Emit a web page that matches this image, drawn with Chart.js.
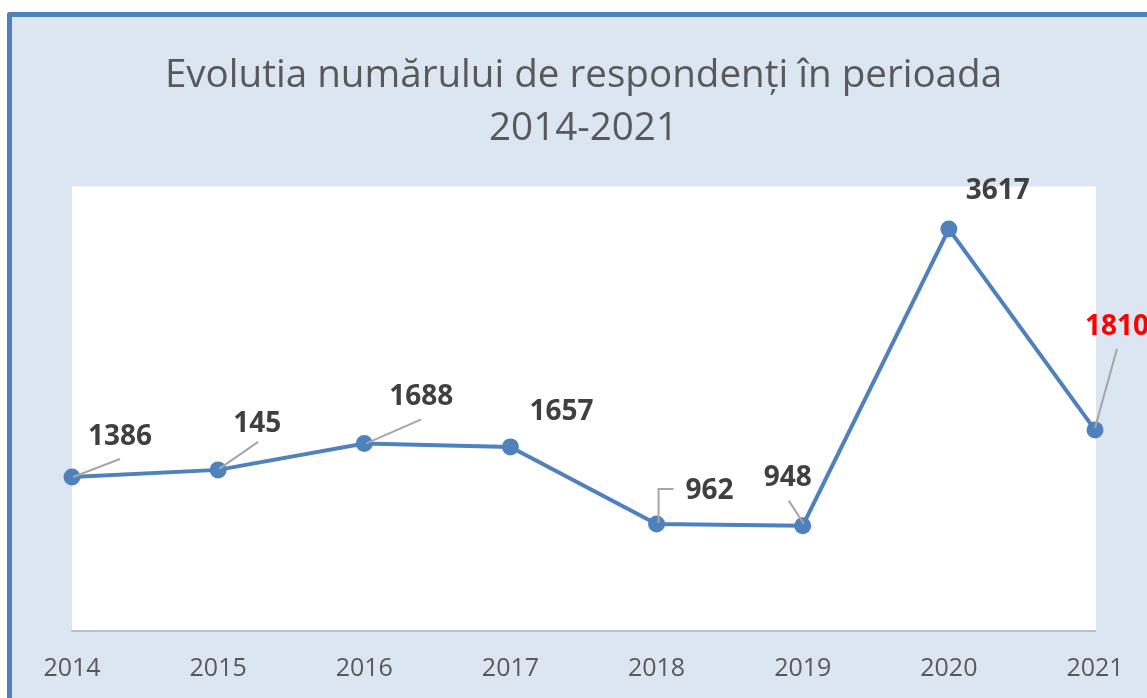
<!DOCTYPE html>
<html>
<head>
<meta charset="utf-8">
<script src="https://cdn.jsdelivr.net/npm/chart.js@4.4.1/dist/chart.umd.min.js"></script>
<style>
  html, body { margin: 0; padding: 0; background: #ffffff; overflow: hidden; }
  #frame { position: absolute; left: 7px; top: 12px; width: 1300px; height: 800px;
    border-left: 5px solid #4f81bd; border-top: 5px solid #4f81bd; border-top-left-radius: 3px;
    background: #dce6f2; }
  #c { position: absolute; left: 0; top: 0; }
</style>
</head>
<body>
<div id="frame"></div>
<canvas id="c" width="1147" height="707"></canvas>
<script>
const categories = ['2014', '2015', '2016', '2017', '2018', '2019', '2020', '2021'];
const respondents = [1386, 1450, 1688, 1657, 962, 948, 3617, 1810];
const valueLabels = ['1386', '145', '1688', '1657', '962', '948', '3617', '1810'];
const titleLines = ['Evolutia numărului de respondenți în perioada', '2014-2021'];

const FONT = "'Open Sans', 'Liberation Sans', sans-serif";

const plotBg = {
  id: 'plotBg',
  beforeDraw(chart) {
    const {ctx, chartArea: a} = chart;
    ctx.save();
    ctx.fillStyle = '#ffffff';
    ctx.fillRect(a.left, a.top, a.right - a.left + 1, a.bottom - a.top);
    ctx.restore();
  }
};

// label placement (style only): label centre offset and leader-line path relative to point
const labelStyle = [
  {dx: 48, dy: -40, leader: [[1, 0], [48, -18]]},
  {dx: 39, dy: -46, leader: [[1, -1], [40, -28]]},
  {dx: 57, dy: -46, leader: [[2, 0], [57, -24]]},
  {dx: 51, dy: -35, leader: null},
  {dx: 53, dy: -33, leader: [[2, -1], [2, -35], [17, -35]]},
  {dx: -15, dy: -48, leader: [[1, -2], [-14, -25]]},
  {dx: 49, dy: -38, leader: null},
  {dx: 22, dy: -103, leader: [[0, -2], [22, -81]], color: '#ff0000'}
];

const dataLabels = {
  id: 'dataLabels',
  afterDatasetsDraw(chart) {
    const {ctx} = chart;
    const meta = chart.getDatasetMeta(0);
    ctx.save();
    meta.data.forEach((pt, i) => {
      const s = labelStyle[i];
      if (s.leader) {
        ctx.beginPath();
        ctx.strokeStyle = '#a6a6a6';
        ctx.lineWidth = 2;
        s.leader.forEach((p, k) => {
          const x = pt.x + p[0], y = pt.y + p[1];
          if (k === 0) ctx.moveTo(x, y); else ctx.lineTo(x, y);
        });
        ctx.stroke();
      }
    });
    meta.data.forEach((pt, i) => {
      const s = labelStyle[i];
      ctx.font = "bold 28px " + FONT;
      ctx.fillStyle = s.color || '#404040';
      ctx.textAlign = 'center';
      ctx.textBaseline = 'middle';
      ctx.fillText(valueLabels[i], pt.x + s.dx, pt.y + s.dy);
    });
    ctx.restore();
  }
};

new Chart(document.getElementById('c'), {
  type: 'line',
  data: {
    labels: categories,
    datasets: [{
      data: respondents,
      borderColor: '#4f81bd',
      backgroundColor: '#4f81bd',
      borderWidth: 4,
      pointRadius: 8.5,
      pointHoverRadius: 8.5,
      pointBackgroundColor: '#4f81bd',
      pointBorderWidth: 0,
      tension: 0,
      clip: false
    }]
  },
  options: {
    responsive: false,
    animation: false,
    layout: { padding: { left: 72, right: 52, top: 49, bottom: 0 } },
    plugins: {
      legend: { display: false },
      tooltip: { enabled: false },
      title: {
        display: true,
        text: titleLines,
        color: '#595959',
        font: { family: FONT, size: 38.6, weight: 'normal', lineHeight: 1.38 },
        padding: { top: 0, bottom: 31 }
      }
    },
    scales: {
      x: {
        offset: false,
        grid: { display: false, drawTicks: false },
        border: { display: true, color: '#bfbfbf', width: 2 },
        ticks: { color: '#595959', font: { family: FONT, size: 25 }, padding: 23, maxRotation: 0, autoSkip: false }
      },
      y: {
        display: false,
        min: 0,
        max: 4000
      }
    }
  },
  plugins: [plotBg, dataLabels]
});
</script>
</body>
</html>
